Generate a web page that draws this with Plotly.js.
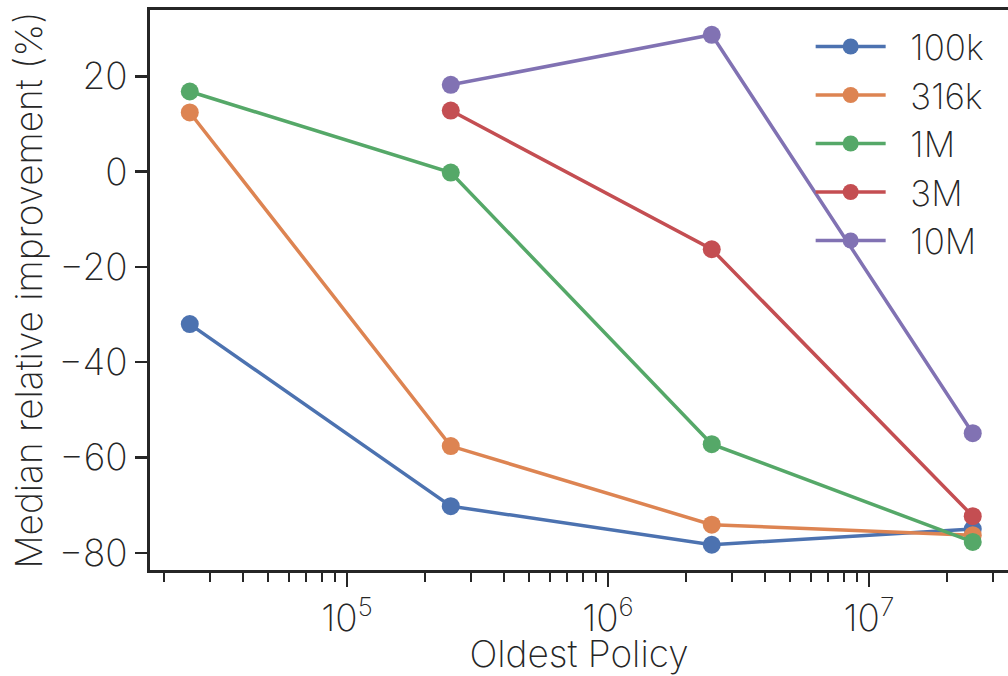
<!DOCTYPE html>
<html>
<head>
<meta charset="utf-8">
<script src="https://cdn.plot.ly/plotly-3.0.1.min.js"></script>
<style>html,body{margin:0;padding:0;background:#fff;}#chart{width:1008px;height:676px;}</style>
</head>
<body>
<div id="chart"></div>
<script>
const xValues = [25000, 250000, 2500000, 25000000];
const seriesNames = ["100k", "316k", "1M", "3M", "10M"];
const values100k = [-32.0, -70.2, -78.3, -75.0];
const values316k = [12.4, -57.6, -74.1, -76.3];
const values1M = [16.8, -0.2, -57.2, -77.7];
const values3M = [null, 12.8, -16.3, -72.3];
const values10M = [null, 18.2, 28.7, -54.9];
const colors = ["#4C72B0", "#DD8452", "#55A868", "#C44E52", "#8172B3"];
const xTickVals = [1e5, 1e6, 1e7];
const xTickText = ["10<sup>5</sup>", "10<sup>6</sup>", "10<sup>7</sup>"];
const yTickVals = [20, 0, -20, -40, -60, -80];
const yTickText = ["20", "0", "\u221220", "\u221240", "\u221260", "\u221280"];

const allSeries = [values100k, values316k, values1M, values3M, values10M];
const minorVals = [];
for (let e = 4; e <= 7; e++) {
  for (let m = 2; m <= 9; m++) minorVals.push(m * Math.pow(10, e));
}

const FONT = "Inter, Liberation Sans, Arial, sans-serif";
const W = 200;
const INK = "#262626";
const traces = allSeries.map((ys, i) => {
  const xs = [], yy = [];
  ys.forEach((v, j) => { if (v !== null) { xs.push(xValues[j]); yy.push(v); } });
  return {
    x: xs, y: yy, name: "\u00a0\u00a0" + seriesNames[i], type: "scatter", mode: "lines+markers",
    line: {color: colors[i], width: 3.5},
    marker: {color: colors[i], size: 18}
  };
});

const layout = {
  width: 1008, height: 676,
  margin: {l: 150, r: 0, t: 10, b: 106},
  paper_bgcolor: "#fff", plot_bgcolor: "#fff",
  font: {family: FONT, size: 36, color: INK, weight: W},
  showlegend: true,
  legend: {x: 0.77, y: 0.987, xanchor: "left", yanchor: "top", bgcolor: "rgba(0,0,0,0)",
           font: {family: FONT, size: 35, color: INK, weight: W}, itemwidth: 70, tracegroupgap: 0},
  xaxis: {
    type: "log", range: [Math.log10(17600), 7.533],
    showgrid: false, zeroline: false,
    showline: true, linecolor: INK, linewidth: 3, mirror: true,
    ticks: "outside", ticklen: 14, tickwidth: 2.5, tickcolor: INK,
    tickmode: "array", tickvals: xTickVals, ticktext: xTickText,
    tickfont: {family: FONT, size: 37, color: INK, weight: W},
    minor: {ticks: "outside", ticklen: 9, tickwidth: 2, tickcolor: INK, tickmode: "array", tickvals: minorVals, showgrid: false},
    title: {text: "Oldest Policy", font: {family: FONT, size: 37, color: INK, weight: W}, standoff: 15}
  },
  yaxis: {
    range: [-83.6, 33.9],
    showgrid: false, zeroline: false,
    showline: true, linecolor: INK, linewidth: 3,
    ticks: "outside", ticklen: 12, tickwidth: 2.5, tickcolor: INK,
    tickmode: "array", tickvals: yTickVals, ticktext: yTickText,
    tickfont: {family: FONT, size: 37, color: INK, weight: W},
    title: {text: "Median relative improvement (%)", font: {family: FONT, size: 37, color: INK, weight: W}, standoff: 5}
  }
};

Plotly.newPlot("chart", traces, layout, {displayModeBar: false, staticPlot: true});
</script>
</body>
</html>
